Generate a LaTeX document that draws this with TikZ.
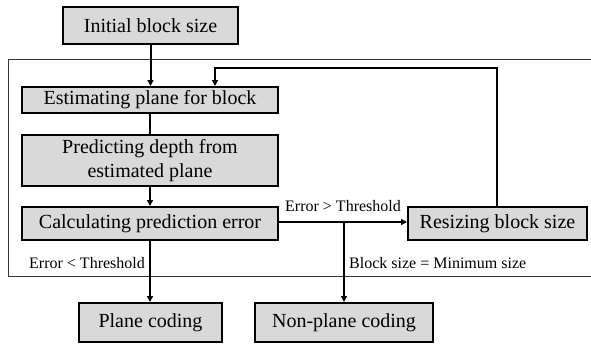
\documentclass[tikz,border=0pt]{standalone}
\usepackage{fontspec}
\setmainfont{Liberation Serif}
\newfontfamily\tnr{Liberation Serif}
\usetikzlibrary{arrows.meta}
\begin{document}
\begin{tikzpicture}[x=1pt,y=-1pt,
  blk/.style={draw=black,line width=2pt,fill=gray!30,inner sep=0pt,align=center,
    font=\tnr\fontsize{20}{24}\selectfont},
  lbl/.style={inner sep=0pt,font=\tnr\fontsize{16}{18}\selectfont},
  conn/.style={line width=2pt,-{Triangle[length=6pt,width=6pt]}},
  plain/.style={line width=2pt},
  frame/.style={line width=1pt,draw=black!80}]
\useasboundingbox (0,0) rectangle (591,343);
% outer frame
\draw[frame] (591,59) -- (8,59) -- (8,276) -- (591,276);
% boxes
\node[blk,minimum width=175pt,minimum height=37pt] (init) at (150.5,25.5) {Initial block size};
\node[blk,minimum width=256pt,minimum height=26pt] (est) at (150,100) {Estimating plane for block};
\node[blk,minimum width=256pt,minimum height=51pt] (pred) at (150,160.5) {Predicting depth from\\estimated plane};
\node[blk,minimum width=256pt,minimum height=33pt] (calc) at (150,223.5) {Calculating prediction error};
\node[blk,minimum width=179pt,minimum height=33pt] (resize) at (497.5,223.5) {Resizing block size};
\node[blk,minimum width=143pt,minimum height=39pt] (plane) at (150.5,322.5) {Plane coding};
\node[blk,minimum width=178pt,minimum height=39pt] (nonplane) at (344,322.5) {Non-plane coding};
% connectors
\draw[conn] (init.south) -- (init.south |- est.north);
\draw[plain] (est.south) -- (pred.north);
\draw[conn] (pred.south) -- (calc.north);
\draw[conn] (calc.south) -- (calc.south |- plane.north);
\coordinate (rtop) at (497,68);
\coordinate (ltop) at (215,68);
\draw[conn] (resize.north -| rtop) -- (rtop) -- (ltop) -- (ltop |- est.north);
\draw[conn] (calc.east |- 0,222) -- (resize.west |- 0,222);
\coordinate (br) at (344,222);
\draw[conn] (br) -- (nonplane.north);
% labels
\node[lbl,anchor=west] (l1) at (285,206) {Error > Threshold};
\node[lbl,anchor=west] (l2) at (349,263) {Block size = Minimum size};
\node[lbl,anchor=west] (l3) at (29,263) {Error < Threshold};
\end{tikzpicture}
\end{document}
